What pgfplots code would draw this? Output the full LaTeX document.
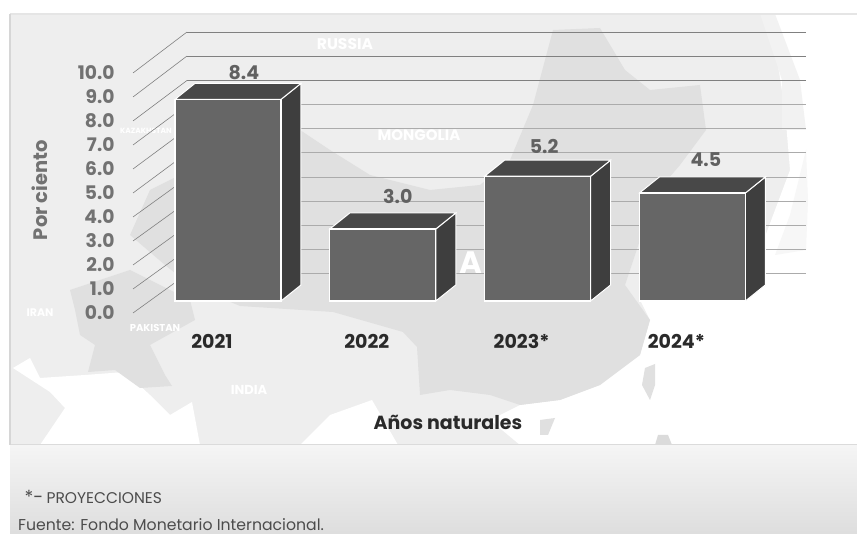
\documentclass[border=0pt]{standalone}
\usepackage{fontspec}
\setmainfont{Poppins}
\usepackage{pgfplots}
\pgfplotsset{compat=1.18}
\definecolor{land}{HTML}{EEEEEE}
\definecolor{china}{HTML}{E0E0E0}
\definecolor{front}{HTML}{666666}
\definecolor{side}{HTML}{3E3E3E}
\definecolor{topf}{HTML}{484848}
\definecolor{tick}{HTML}{727272}
\definecolor{vallab}{HTML}{616161}
\definecolor{dark}{HTML}{2A2A2A}
\definecolor{gridA}{HTML}{808080}
\definecolor{gridB}{HTML}{ABABAB}
\begin{document}
\begin{tikzpicture}[x=1pt,y=1pt]
\path[use as bounding box] (0,0) rectangle (857,533);
\begin{scope}[shift={(0,533)},y=-1pt]
\clip (0,0) rectangle (857,533);
% panel background
\fill[land] (10,14) rectangle (857,445);
\fill[white] (770,14) -- (857,14) -- (857,445) -- (520,445) -- (490,420) -- (520,405) -- (560,400) -- (600,385) -- (640,355) -- (650,320) -- (640,300) -- (700,300) -- (760,250) -- (790,170) -- (785,110) -- cycle;
\fill[black!5] (760,14) -- (775,14) -- (800,80) -- (806,130) -- (782,130) -- (782,80) -- cycle;
\fill[black!3] (806,150) -- (808,200) -- (806,250) -- (775,255) -- (790,215) -- cycle;
% Arabian sea and Bay of Bengal
\fill[white] (13,368) -- (30,358) -- (40,378) -- (85,375) -- (125,372) -- (150,395) -- (170,415) -- (192,402) -- (200,445) -- (40,445) -- (65,408) -- (50,392) -- cycle;
\fill[white] (300,445) -- (330,415) -- (372,400) -- (398,445) -- cycle;
% China
\fill[china] (130,235) -- (150,190) -- (230,150) -- (300,130) -- (330,150) -- (370,175) -- (430,190) -- (480,185) -- (510,160) -- (533,105) -- (553,30) -- (600,28) -- (625,70) -- (650,90) -- (700,85) -- (706,130) -- (680,165) -- (650,200) -- (640,240) -- (625,285) -- (650,320) -- (640,355) -- (600,385) -- (560,400) -- (520,405) -- (490,395) -- (450,390) -- (420,395) -- (417,347) -- (403,332) -- (333,312) -- (240,306) -- (190,285) -- (165,265) -- cycle;
\fill[china] (70,290) -- (130,270) -- (190,300) -- (195,320) -- (150,345) -- (165,375) -- (172,386) -- (140,388) -- (115,370) -- (88,372) -- (95,345) -- (80,335) -- (75,310) -- cycle;
\fill[china] (655,364) -- (655,385) -- (650,400) -- (642,385) -- (645,368) -- cycle;
\fill[china] (540,420) -- (555,418) -- (548,435) -- (540,435) -- (540,420) -- cycle;
\fill[black!14] (655,445) -- (658,435) -- (668,435) -- (672,445) -- cycle;
% panel edges
\draw[black!14,line width=1] (10,445) -- (857,445);
\draw[black!10,line width=1.5] (10,14) -- (857,14);
\draw[black!16,line width=1.5] (10,14) -- (10,445);
% footer
\shade[top color=black!4,bottom color=black!13] (10,446) rectangle (857,533);
% faint map names
\node[white,font=\fontsize{15.5}{15.5}\selectfont\bfseries] at (345,44) {RUSSIA};
\node[white,font=\fontsize{15}{15}\selectfont\bfseries] at (419,135) {MONGOLIA};
\node[white,inner sep=0pt,font=\fontsize{7.5}{7.5}\selectfont\bfseries] at (146,131) {KAZAKHSTAN};
\node[white,font=\fontsize{10}{10}\selectfont\bfseries] at (155,328) {PAKISTAN};
\node[white,font=\fontsize{13}{13}\selectfont\bfseries] at (249,390) {INDIA};
\node[white,font=\fontsize{11}{11}\selectfont\bfseries] at (40,313) {IRAN};
\node[white,font=\fontsize{31}{31}\selectfont\bfseries] at (471,263) {A};
% footer text
\node[anchor=base west,text=black!70,font=\fontsize{18}{18}\selectfont] at (21,503) {*-};
\node[anchor=base west,text=black!70,font=\fontsize{15.5}{15.5}\selectfont] at (43,503) {PROYECCIONES};
\node[anchor=base west,text=black!70,inner sep=0pt,font=\fontsize{15.7}{15.7}\selectfont] at (18,531) {Fuente: Fondo Monetario Internacional.};
\end{scope}
\begin{axis}[
  at={(133pt,203pt)},anchor=south west,
  scale only axis,width=673pt,height=316pt,
  xmin=-0.6137,xmax=3.7339,ymin=-1.2083,ymax=11.9583,
  axis line style={draw=none},
  tick style={draw=none},
  clip=false,
  xtick={0,1,2,3},
  xticklabels={2021,2022,2023*,2024*},
  x tick label style={xshift=-16pt,text=dark,font=\fontsize{19}{19}\selectfont\bfseries,yshift=-1pt},
  ytick={-0.5,0.5,1.5,2.5,3.5,4.5,5.5,6.5,7.5,8.5,9.5},
  yticklabels={0.0,1.0,2.0,3.0,4.0,5.0,6.0,7.0,8.0,9.0,10.0},
  y tick label style={text=tick,font=\fontsize{18.7}{18.7}\selectfont\bfseries,anchor=east,xshift=-15pt},
  xlabel={Años naturales},
  ylabel={Por ciento},
  every axis x label/.style={at={(axis description cs:0.468,-0.291)},anchor=center,text=dark,font=\fontsize{19}{19}\selectfont\bfseries},
  every axis y label/.style={at={(axis description cs:-0.1382,0.443)},anchor=center,rotate=90,text=tick,font=\fontsize{19.5}{19.5}\selectfont\bfseries},
]
% back wall lines
\addplot[gridA,line width=0.6,forget plot] coordinates {(-0.6137,-0.5)(-0.2649,1.125)};
\addplot[gridA,line width=0.6,forget plot] coordinates {(-0.6137,0.5)(-0.2649,2.125)};
\addplot[gridA,line width=0.6,forget plot] coordinates {(-0.6137,1.5)(-0.2649,3.125)};
\addplot[gridA,line width=0.6,forget plot] coordinates {(-0.6137,2.5)(-0.2649,4.125)};
\addplot[gridA,line width=0.6,forget plot] coordinates {(-0.6137,3.5)(-0.2649,5.125)};
\addplot[gridA,line width=0.6,forget plot] coordinates {(-0.6137,4.5)(-0.2649,6.167)};
\addplot[gridA,line width=0.6,forget plot] coordinates {(-0.6137,5.5)(-0.2649,7.167)};
\addplot[gridA,line width=0.6,forget plot] coordinates {(-0.6137,6.5)(-0.2649,8.167)};
\addplot[gridA,line width=0.6,forget plot] coordinates {(-0.6137,7.5)(-0.2649,9.188)};
\addplot[gridA,line width=0.6,forget plot] coordinates {(-0.6137,8.5)(-0.2649,10.208)};
\addplot[gridA,line width=0.6,forget plot] coordinates {(-0.6137,9.5)(-0.2649,11.208)};
\addplot[gridB,line width=1,forget plot] coordinates {(-0.2649,1.125)(3.7339,1.125)};
\addplot[gridB,line width=1,forget plot] coordinates {(-0.2649,2.125)(3.7339,2.125)};
\addplot[gridB,line width=1,forget plot] coordinates {(-0.2649,3.125)(3.7339,3.125)};
\addplot[gridB,line width=1,forget plot] coordinates {(-0.2649,4.125)(3.7339,4.125)};
\addplot[gridB,line width=1,forget plot] coordinates {(-0.2649,5.125)(3.7339,5.125)};
\addplot[gridB,line width=1,forget plot] coordinates {(-0.2649,6.167)(3.7339,6.167)};
\addplot[gridB,line width=1,forget plot] coordinates {(-0.2649,7.167)(3.7339,7.167)};
\addplot[gridB,line width=1,forget plot] coordinates {(-0.2649,8.167)(3.7339,8.167)};
\addplot[gridA,line width=1,forget plot] coordinates {(-0.2649,9.188)(3.7339,9.188)};
\addplot[gridA,line width=1,forget plot] coordinates {(-0.2649,10.208)(3.7339,10.208)};
\addplot[gridA,line width=1,forget plot] coordinates {(-0.2649,11.208)(3.7339,11.208)};
% side faces
\addplot[fill=side,draw=white,line width=1,forget plot] coordinates {(0.3423,0)(0.4713,0.667)(0.4713,9.067)(0.3423,8.4)} --cycle;
\addplot[fill=side,draw=white,line width=1,forget plot] coordinates {(1.3423,0)(1.4713,0.667)(1.4713,3.667)(1.3423,3.0)} --cycle;
\addplot[fill=side,draw=white,line width=1,forget plot] coordinates {(2.3423,0)(2.4713,0.667)(2.4713,5.867)(2.3423,5.2)} --cycle;
\addplot[fill=side,draw=white,line width=1,forget plot] coordinates {(3.3423,0)(3.4713,0.667)(3.4713,5.167)(3.3423,4.5)} --cycle;
% top faces
\addplot[fill=topf,draw=white,line width=1,forget plot] coordinates {(-0.3423,8.4)(-0.2133,9.067)(0.4713,9.067)(0.3423,8.4)} --cycle;
\addplot[fill=topf,draw=white,line width=1,forget plot] coordinates {(0.6577,3.0)(0.7867,3.667)(1.4713,3.667)(1.3423,3.0)} --cycle;
\addplot[fill=topf,draw=white,line width=1,forget plot] coordinates {(1.6577,5.2)(1.7867,5.867)(2.4713,5.867)(2.3423,5.2)} --cycle;
\addplot[fill=topf,draw=white,line width=1,forget plot] coordinates {(2.6577,4.5)(2.7867,5.167)(3.4713,5.167)(3.3423,4.5)} --cycle;
% front faces
\addplot[ybar,bar width=106pt,fill=front,draw=white,line width=1.3] coordinates {(0,8.4)(1,3.0)(2,5.2)(3,4.5)};
\node[text=vallab,font=\fontsize{19}{19}\selectfont\bfseries] at (axis cs:0.103,9.5) {8.4};
\node[text=vallab,font=\fontsize{19}{19}\selectfont\bfseries] at (axis cs:0.097,0) {};
\node[text=vallab,font=\fontsize{19}{19}\selectfont\bfseries] at (axis cs:1.097,4.375) {3.0};
\node[text=vallab,font=\fontsize{19}{19}\selectfont\bfseries] at (axis cs:2.042,6.458) {5.2};
\node[text=vallab,font=\fontsize{19}{19}\selectfont\bfseries] at (axis cs:3.087,5.875) {4.5};
\end{axis}
\end{tikzpicture}
\end{document}
